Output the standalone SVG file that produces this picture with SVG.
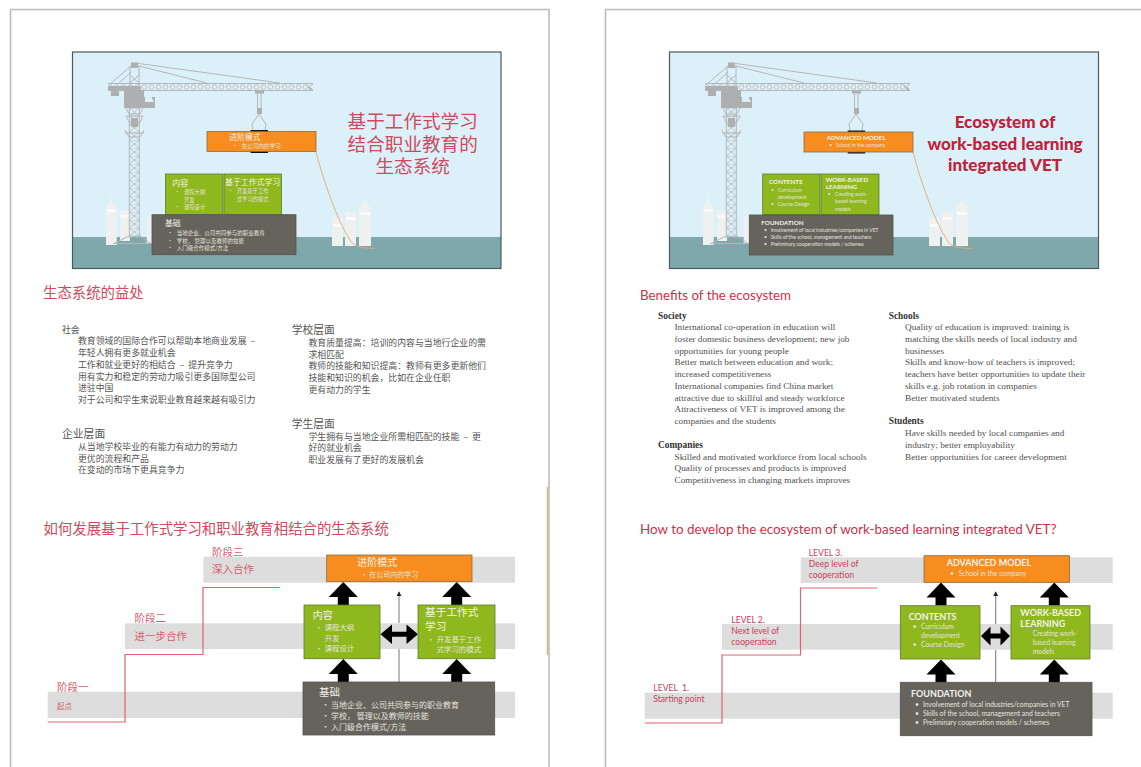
<svg xmlns="http://www.w3.org/2000/svg" xmlns:xlink="http://www.w3.org/1999/xlink" width="1141" height="767" viewBox="0 0 1141 767">
<style>
text{white-space:pre}
.zh{font-family:"Noto Sans CJK SC","Noto Sans",sans-serif}
.en{font-family:Lato,"Liberation Sans",sans-serif}
.head-zh{font-family:"Noto Sans CJK SC",sans-serif;fill:#cf4a5c;font-size:14.4px}
.head-en{font-family:Lato,sans-serif;fill:#c9324a;font-size:13.3px}
.body-zh{font-family:"Noto Sans CJK SC",sans-serif;fill:#555;font-size:8.9px}
.sub-zh{font-family:"Noto Sans CJK SC",sans-serif;fill:#555;font-size:10.8px}
.body-en{font-family:"Liberation Serif",serif;fill:#505050;font-size:9.25px}
.sub-en{font-family:"Liberation Serif",serif;fill:#333;font-size:9.4px;font-weight:bold}
.w{fill:#f2f2ea}
.wd{fill:#e4e4de}
.lvl-zh{font-family:"Noto Sans CJK SC",sans-serif;fill:#d45d6c;font-size:10.5px}
.lvl-en{font-family:Lato,sans-serif;fill:#c9405a;font-size:8.6px}
.org{fill:#f78d1e;stroke:#8a6a40;stroke-width:.8}
.grn{fill:#8fb81e;stroke:#5c7a2c;stroke-width:.8}
.fnd{fill:#66635c;stroke:#55534e;stroke-width:.8}
.band{fill:#dddddd}
.step{fill:none;stroke:#e0636f;stroke-width:1.2}
.page{fill:none;stroke:#bdbdbd;stroke-width:1.6}
.big{fill:#000}
.thin{fill:none;stroke:#777;stroke-width:1}
.cable{fill:none;stroke:#e0aa70;stroke-width:.9}
.cr{fill:none;stroke:#b4b6b8;stroke-width:1}
.crf{fill:#adafb1}
.bld{fill:#eff1f1}
.bw{fill:#fafafa}
</style>
<defs>
<pattern id="jibLattice" width="7" height="8" patternUnits="userSpaceOnUse" x="141" y="83">
<circle cx="3.5" cy="4" r="2.4" fill="none" stroke="#b4b6b8" stroke-width=".8"/>
<path d="M0 .5H7M0 7.500H7" stroke="#b4b6b8" stroke-width="1"/>
</pattern>
<pattern id="towerLattice" width="10" height="8" patternUnits="userSpaceOnUse" x="129.300" y="108">
<path d="M0 0L10 8M10 0L0 8M0 0H10" fill="none" stroke="#b4b6b8" stroke-width=".8"/>
</pattern>
<marker id="tip" viewBox="0 0 6 6" refX="5" refY="3" markerWidth="5" markerHeight="5" orient="auto">
<path d="M0 0L6 3L0 6Z" fill="#222"/>
</marker>
<path id="arrowUp" class="big" d="M0 0L14.500 15H5.500V23H-5.500V15H-14.500Z"/>
<g id="skyline">
<path class="bld" d="M106 245V207L109.500 204L111 193L112.500 204L116.700 207V245Z"/>
<path class="bld" d="M120 241V211L125 209.500L130 211V241Z"/>
<path class="bld" d="M146.700 243V216H152V243Z"/>
<path class="bw" d="M107 209H115.700V212H107ZM121 215H129V218H121Z"/>
<path class="bld" d="M332 246V217H343V246Z"/>
<path class="bld" d="M345 246V212H356V246Z"/>
<path class="bld" d="M359 246V208L365 200L371 208V246Z"/>
<path class="bw" d="M346 217H355V220H346ZM360 212H370V215H360ZM333 224H342V227H333Z"/>
</g>
<g id="crane">
<path class="cr" d="M129.300 108V238M139.300 108V238"/>
<rect x="129.300" y="108" width="10" height="130" fill="url(#towerLattice)"/>
<path class="cr" stroke-width="1.300" d="M126 108L129 114H140L143 108M126 116L129 122H140L143 116M126 116H143M125 130L129 137H140L144 130M125 133H144"/>
<path class="crf" d="M131 118H138V127H131Z"/>
<path class="cr" stroke-width="1.500" d="M115 243L129 236H140L150 243M113 243.500H152"/>
<rect x="108" y="83" width="205" height="8" fill="url(#jibLattice)"/>
<path class="crf" d="M108 86H141V90H108ZM310 90H313L306 84Z"/>
<path class="crf" d="M111 90H119V96H111Z"/>
<path class="cr" d="M130 66V90M139 66V90M130 75L139 83M139 75L130 83"/>
<path class="crf" d="M131 62.500H138V68H131Z"/>
<path class="cr" stroke-width="1.200" d="M135 63L280 83M135 65L207 83M131 66L110 84M131 72L118 84"/>
<path class="crf" d="M124 90H144V97H155V108H124Z"/>
<path d="M145 96H151L154 102H145Z" fill="#dcf0fa"/>
<path class="crf" d="M255 91H264V93.500H255Z"/>
<path class="cr" d="M257.500 93V111M261 93V111"/>
<path class="crf" d="M257 108H262V114H257Z"/>
<path class="cr" d="M259 114L252 124L253 131M259 114L266 124L265 131"/>
</g>
</defs>

<path class="page" d="M10.500 767V9.500H549V767"/>
<path d="M547.500 487V655" fill="none" stroke="#dcb080" stroke-width="1.500"/>
<path class="page" d="M605.500 767V9.500H1141"/>

<g id="hero-zh">
<rect x="72.500" y="52" width="428.500" height="216.500" fill="#dcf0fa"/>
<rect x="72.500" y="237" width="428.500" height="31.500" fill="#7fa8ac"/>
<use href="#skyline"/>
<use href="#crane"/>
<path class="cable" d="M316 152C326 190 340 225 350 240C354 247 360 248 375 248.500"/>
<rect x="72.500" y="52" width="428.500" height="216.500" fill="none" stroke="#4a5a5e" stroke-width="1.200"/>
<text class="zh" font-size="18.600" fill="#cf4a5c" text-anchor="middle"><tspan x="412.700" y="128">基于工作式学习</tspan><tspan x="412.700" y="150.500">结合职业教育的</tspan><tspan x="412.700" y="173">生态系统</tspan></text>
</g>
<g id="hero-zh-advanced">
<rect x="250.500" y="130" width="17.500" height="23" fill="#111"/>
<rect class="org" x="207" y="131.500" width="109" height="20"/>
<text class="zh w" x="229.300" y="139.700" font-size="7.800">进阶模式</text>
<text class="zh wd" x="232.500" y="148.300" font-size="5.600">•</text>
<text class="zh wd" x="241.700" y="148.300" font-size="5.600">在公司内的学习</text>
</g>
<g id="hero-zh-contents">
<rect class="grn" x="165.500" y="174" width="57.500" height="40.500"/>
<text class="zh w" x="172.300" y="185.500" font-size="8">内容</text>
<text class="zh wd" x="174.700" y="194" font-size="5.300">•</text>
<text class="zh wd" x="184" y="194" font-size="5.300">课程大纲</text>
<text class="zh wd" x="184" y="201.700" font-size="5.300">开发</text>
<text class="zh wd" x="174.700" y="209.400" font-size="5.300">•</text>
<text class="zh wd" x="184" y="209.400" font-size="5.300">课程设计</text>
</g>
<g id="hero-zh-wbl">
<rect class="grn" x="224" y="174" width="57.500" height="40.500"/>
<text class="zh w" x="225" y="184.500" font-size="7.900">基于工作式学习</text>
<text class="zh wd" x="228.300" y="193" font-size="5.300">•</text>
<text class="zh wd" x="236.700" y="193" font-size="5.300">开发基于工作</text>
<text class="zh wd" x="236.700" y="200.700" font-size="5.300">式学习的模式</text>
</g>
<g id="hero-zh-foundation">
<rect class="fnd" x="152" y="214.700" width="144" height="40"/>
<text class="zh w" x="165" y="226" font-size="7.800">基础</text>
<text class="zh wd" x="167.300" y="234.700" font-size="5.500">•</text>
<text class="zh wd" x="176.700" y="234.700" font-size="5.500">当地企业、公司共同参与的职业教育</text>
<text class="zh wd" x="167.300" y="242.500" font-size="5.500">•</text>
<text class="zh wd" x="176.700" y="242.500" font-size="5.500">学校， 管理以及教师的技能</text>
<text class="zh wd" x="167.300" y="250.300" font-size="5.500">•</text>
<text class="zh wd" x="176.700" y="250.300" font-size="5.500">入门级合作模式/方法</text>
</g>

<g id="hero-en">
<rect x="669.500" y="52" width="429" height="216.500" fill="#dcf0fa"/>
<rect x="669.500" y="237" width="429" height="31.500" fill="#7fa8ac"/>
<use href="#skyline" x="597"/>
<use href="#crane" x="597"/>
<path class="cable" d="M913 152C923 190 937 225 947 240C951 247 957 248 972 248.500"/>
<rect x="669.500" y="52" width="429" height="216.500" fill="none" stroke="#4a5a5e" stroke-width="1.200"/>
<text class="en" x="1005" y="128" font-size="17" font-weight="900" fill="#c02038" text-anchor="middle">Ecosystem of</text>
<text class="en" x="1005" y="149.500" font-size="17" font-weight="900" fill="#c02038" text-anchor="middle">work-based learning</text>
<text class="en" x="1005" y="171" font-size="17" font-weight="900" fill="#c02038" text-anchor="middle">integrated VET</text>
</g>
<g id="hero-en-advanced">
<rect x="847.700" y="130.500" width="17.500" height="23" fill="#111"/>
<rect class="org" x="804" y="132" width="109" height="20"/>
<text class="en w" x="826.700" y="140" font-size="6.300" font-weight="700">ADVANCED MODEL</text>
<text class="en wd" x="829.300" y="147.300" font-size="5">•</text>
<text class="en wd" x="835.700" y="147.300" font-size="5">School in the company</text>
</g>
<g id="hero-en-contents">
<rect class="grn" x="762.700" y="174" width="57.300" height="40.500"/>
<text class="en w" x="769" y="184.300" font-size="6.300" font-weight="700">CONTENTS</text>
<text class="en wd" x="771" y="191.700" font-size="5">•</text>
<text class="en wd" x="777.700" y="191.700" font-size="5">Curriculum</text>
<text class="en wd" x="777.700" y="198.700" font-size="5">development</text>
<text class="en wd" x="771" y="206.300" font-size="5">•</text>
<text class="en wd" x="777.700" y="206.300" font-size="5">Course Design</text>
</g>
<g id="hero-en-wbl">
<rect class="grn" x="821" y="174" width="58" height="40.500"/>
<text class="en w" x="825.700" y="181.700" font-size="6.300" font-weight="700">WORK-BASED</text>
<text class="en w" x="825.700" y="189" font-size="6.300" font-weight="700">LEARNING</text>
<text class="en wd" x="827.700" y="196" font-size="5">•</text>
<text class="en wd" x="835" y="196" font-size="5">Creating work-</text>
<text class="en wd" x="835" y="203.300" font-size="5">based learning</text>
<text class="en wd" x="835" y="210.700" font-size="5">models</text>
</g>
<g id="hero-en-foundation">
<rect class="fnd" x="749.300" y="215" width="143.700" height="40"/>
<text class="en w" x="761.300" y="225.300" font-size="6.300" font-weight="700">FOUNDATION</text>
<text class="en wd" x="764" y="231.700" font-size="5">•</text>
<text class="en wd" x="770.700" y="231.700" font-size="5">Involvement of local industries/companies in VET</text>
<text class="en wd" x="764" y="238.700" font-size="5">•</text>
<text class="en wd" x="770.700" y="238.700" font-size="5">Skills of the school, management and teachers</text>
<text class="en wd" x="764" y="246" font-size="5">•</text>
<text class="en wd" x="770.700" y="246" font-size="5">Preliminary cooperation models / schemes</text>
</g>

<g id="benefits-zh">
<text class="head-zh" x="43" y="298">生态系统的益处</text>
<text class="body-zh" x="62" y="332.700">社会</text>
<text class="body-zh" x="78" y="344.300">教育领域的国际合作可以帮助本地商业发展  –</text>
<text class="body-zh" x="78" y="356">年轻人拥有更多就业机会</text>
<text class="body-zh" x="78" y="367.700">工作和就业更好的相结合  –  提升竞争力</text>
<text class="body-zh" x="78" y="379.500">用有实力和稳定的劳动力吸引更多国际型公司</text>
<text class="body-zh" x="78" y="391">进驻中国</text>
<text class="body-zh" x="78" y="402.700">对于公司和学生来说职业教育越来越有吸引力</text>
<text class="sub-zh" x="62" y="438">企业层面</text>
<text class="body-zh" x="78" y="450">从当地学校毕业的有能力有动力的劳动力</text>
<text class="body-zh" x="78" y="461.500">更优的流程和产品</text>
<text class="body-zh" x="78" y="473">在变动的市场下更具竞争力</text>
<text class="sub-zh" x="291.700" y="334">学校层面</text>
<text class="body-zh" x="308.500" y="345.700">教育质量提高：培训的内容与当地行企业的需</text>
<text class="body-zh" x="308.500" y="357.500">求相匹配</text>
<text class="body-zh" x="308.500" y="369">教师的技能和知识提高：教师有更多更新他们</text>
<text class="body-zh" x="308.500" y="381">技能和知识的机会，比如在企业任职</text>
<text class="body-zh" x="308.500" y="392.500">更有动力的学生</text>
<text class="sub-zh" x="291.700" y="427.700">学生层面</text>
<text class="body-zh" x="308.500" y="439.500">学生拥有与当地企业所需相匹配的技能  –  更</text>
<text class="body-zh" x="308.500" y="451">好的就业机会</text>
<text class="body-zh" x="308.500" y="462.700">职业发展有了更好的发展机会</text>
</g>

<g id="benefits-en">
<text class="head-en" x="640" y="299.500">Benefits of the ecosystem</text>
<text class="sub-en" x="658" y="318.500">Society</text>
<text class="body-en" x="674.500" y="330">International co-operation in education will</text>
<text class="body-en" x="674.500" y="342">foster domestic business development; new job</text>
<text class="body-en" x="674.500" y="353.500">opportunities for young people</text>
<text class="body-en" x="674.500" y="365.300">Better match between education and work;</text>
<text class="body-en" x="674.500" y="377">increased competitiveness</text>
<text class="body-en" x="674.500" y="388.700">International companies find China market</text>
<text class="body-en" x="674.500" y="400.500">attractive due to skillful and steady workforce</text>
<text class="body-en" x="674.500" y="412">Attractiveness of VET is improved among the</text>
<text class="body-en" x="674.500" y="424">companies and the students</text>
<text class="sub-en" x="658" y="447.700">Companies</text>
<text class="body-en" x="674.500" y="459.500">Skilled and motivated workforce from local schools</text>
<text class="body-en" x="674.500" y="471">Quality of processes and products is improved</text>
<text class="body-en" x="674.500" y="483">Competitiveness in changing markets improves</text>
<text class="sub-en" x="888.700" y="318.500">Schools</text>
<text class="body-en" x="905" y="330">Quality of education is improved: training is</text>
<text class="body-en" x="905" y="342">matching the skills needs of local industry and</text>
<text class="body-en" x="905" y="353.500">businesses</text>
<text class="body-en" x="905" y="365.300">Skills and know-how of teachers is improved;</text>
<text class="body-en" x="905" y="377">teachers have better opportunities to update their</text>
<text class="body-en" x="905" y="388.700">skills e.g. job rotation in companies</text>
<text class="body-en" x="905" y="400.500">Better motivated students</text>
<text class="sub-en" x="888.700" y="424">Students</text>
<text class="body-en" x="905" y="436">Have skills needed by local companies and</text>
<text class="body-en" x="905" y="448">industry; better employability</text>
<text class="body-en" x="905" y="459.500">Better opportunities for career development</text>
</g>

<g id="levels-zh">
<text class="head-zh" x="43.500" y="533.500">如何发展基于工作式学习和职业教育相结合的生态系统</text>
<rect class="band" x="203.300" y="556.700" width="311.700" height="26"/>
<rect class="band" x="125" y="623.300" width="390" height="25.700"/>
<rect class="band" x="47.700" y="691.700" width="467.300" height="26.300"/>
<path class="step" d="M47.700 722H125V654.500H203V587.500H280"/>
<text class="lvl-zh" x="212" y="555.700">阶段三</text>
<text class="lvl-zh" x="212" y="573">深入合作</text>
<text class="lvl-zh" x="134.500" y="621.700">阶段二</text>
<text class="lvl-zh" x="134.500" y="640">进一步合作</text>
<text class="lvl-zh" x="57" y="691">阶段一</text>
<text class="lvl-zh" x="57" y="709" style="font-size:7.500px">起点</text>
</g>
<g id="connectors-zh">
<path class="thin" d="M399 682V649M399 623V592" marker-end="url(#tip)"/>
<use href="#arrowUp" x="343.300" y="582"/>
<use href="#arrowUp" x="456.700" y="582"/>
<use href="#arrowUp" x="343.300" y="659"/>
<use href="#arrowUp" x="456.700" y="659"/>
<path class="big" d="M380.500 634.300L392 624.500V631.800H406.500V624.500L418 634.300L406.500 644V636.800H392V644Z"/>
</g>
<g id="level-zh-advanced">
<rect class="org" x="326.700" y="555" width="145.300" height="26.700"/>
<text class="zh w" x="357.300" y="566" font-size="10">进阶模式</text>
<text class="zh wd" x="360.700" y="577" font-size="7">•</text>
<text class="zh wd" x="369.300" y="577" font-size="7">在公司内的学习</text>
</g>
<g id="level-zh-contents">
<rect class="grn" x="304" y="605" width="76" height="53.700"/>
<text class="zh w" x="312.700" y="618.500" font-size="10">内容</text>
<text class="zh wd" x="315.300" y="630" font-size="7.400">•</text>
<text class="zh wd" x="324.700" y="630" font-size="7.400">课程大纲</text>
<text class="zh wd" x="324.700" y="640.500" font-size="7.400">开发</text>
<text class="zh wd" x="315.300" y="651" font-size="7.400">•</text>
<text class="zh wd" x="324.700" y="651" font-size="7.400">课程设计</text>
</g>
<g id="level-zh-wbl">
<rect class="grn" x="418" y="605" width="77" height="53.700"/>
<text class="zh w" x="425" y="615.500" font-size="10.700">基于工作式</text>
<text class="zh w" x="425" y="630" font-size="10.700">学习</text>
<text class="zh wd" x="427.300" y="642" font-size="7.400">•</text>
<text class="zh wd" x="436.700" y="642" font-size="7.400">开发基于工作</text>
<text class="zh wd" x="436.700" y="652" font-size="7.400">式学习的模式</text>
</g>
<g id="level-zh-foundation">
<rect class="fnd" x="303" y="682" width="191.700" height="53"/>
<text class="zh w" x="319" y="696" font-size="10.500">基础</text>
<text class="zh wd" x="321.500" y="708" font-size="8">•</text>
<text class="zh wd" x="331" y="708" font-size="8">当地企业、公司共同参与的职业教育</text>
<text class="zh wd" x="321.500" y="719" font-size="8">•</text>
<text class="zh wd" x="331" y="719" font-size="8">学校， 管理以及教师的技能</text>
<text class="zh wd" x="321.500" y="730" font-size="8">•</text>
<text class="zh wd" x="331" y="730" font-size="8">入门级合作模式/方法</text>
</g>

<g id="levels-en">
<text class="head-en" x="640" y="534.300" style="font-size:13.400px">How to develop the ecosystem of work-based learning integrated VET?</text>
<rect class="band" x="800.700" y="557.300" width="312" height="25.700"/>
<rect class="band" x="722" y="624" width="390.700" height="25.700"/>
<rect class="band" x="644.700" y="692.700" width="468" height="26"/>
<path class="step" d="M644.700 723H722V655H800.500V588H877"/>
<text class="lvl-en" x="808.700" y="555.500">LEVEL 3.</text>
<text class="lvl-en" x="808.700" y="566.500">Deep level of</text>
<text class="lvl-en" x="808.700" y="577.500">cooperation</text>
<text class="lvl-en" x="731.300" y="622.500">LEVEL 2.</text>
<text class="lvl-en" x="731.300" y="633.500">Next level of</text>
<text class="lvl-en" x="731.300" y="644.500">cooperation</text>
<text class="lvl-en" x="653.300" y="691">LEVEL  1.</text>
<text class="lvl-en" x="653.300" y="702">Starting point</text>
</g>
<g id="connectors-en">
<path class="thin" d="M995.700 682V650M995.700 624V592" marker-end="url(#tip)"/>
<use href="#arrowUp" x="941" y="582.500"/>
<use href="#arrowUp" x="1054.300" y="582.500"/>
<use href="#arrowUp" x="941" y="659.500"/>
<use href="#arrowUp" x="1054.300" y="659.500"/>
<path class="big" d="M981 636L990.500 626.500V633.500H1000.500V626.500L1010 636L1000.500 645.500V638.500H990.500V645.500Z"/>
</g>
<g id="level-en-advanced">
<rect class="org" x="924" y="555.700" width="145.500" height="26.600"/>
<text class="en w" x="946.700" y="566" font-size="9" font-weight="700">ADVANCED MODEL</text>
<text class="en wd" x="950" y="575.700" font-size="6.800">•</text>
<text class="en wd" x="958.700" y="575.700" font-size="6.800">School in the company</text>
</g>
<g id="level-en-contents">
<rect class="grn" x="900.300" y="605.700" width="79.700" height="53.300"/>
<text class="en w" x="908.700" y="619.700" font-size="9" font-weight="700">CONTENTS</text>
<text class="en wd" x="912.700" y="628.700" font-size="6.800">•</text>
<text class="en wd" x="921" y="628.700" font-size="6.800">Curriculum</text>
<text class="en wd" x="921" y="638" font-size="6.800">development</text>
<text class="en wd" x="912.700" y="647.300" font-size="6.800">•</text>
<text class="en wd" x="921" y="647.300" font-size="6.800">Course Design</text>
</g>
<g id="level-en-wbl">
<rect class="grn" x="1011" y="605.700" width="79" height="53.300"/>
<text class="en w" x="1020.300" y="616.300" font-size="9" font-weight="700">WORK-BASED</text>
<text class="en w" x="1020.300" y="626.700" font-size="9" font-weight="700">LEARNING</text>
<text class="en wd" x="1032.700" y="636" font-size="6.800">Creating work-</text>
<text class="en wd" x="1032.700" y="645" font-size="6.800">based learning</text>
<text class="en wd" x="1032.700" y="654" font-size="6.800">models</text>
</g>
<g id="level-en-foundation">
<rect class="fnd" x="900.300" y="682.300" width="191.700" height="53.400"/>
<text class="en w" x="911" y="697.300" font-size="9" font-weight="700">FOUNDATION</text>
<text class="en wd" x="915" y="706.700" font-size="6.800">•</text>
<text class="en wd" x="923" y="706.700" font-size="6.800">Involvement of local industries/companies in VET</text>
<text class="en wd" x="915" y="716" font-size="6.800">•</text>
<text class="en wd" x="923" y="716" font-size="6.800">Skills of the school, management and teachers</text>
<text class="en wd" x="915" y="725.300" font-size="6.800">•</text>
<text class="en wd" x="923" y="725.300" font-size="6.800">Preliminary cooperation models / schemes</text>
</g>
</svg>
